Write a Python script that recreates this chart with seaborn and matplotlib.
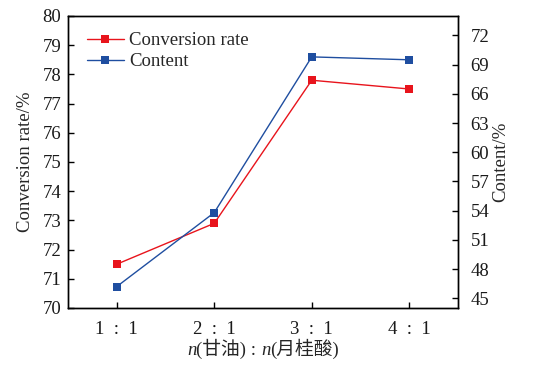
import matplotlib
matplotlib.use("Agg")
import matplotlib.pyplot as plt
import seaborn as sns
import pandas as pd
from matplotlib.offsetbox import TextArea, HPacker, AnchoredOffsetbox

categories = ["1\u2002:\u20021", "2\u2002:\u20021", "3\u2002:\u20021", "4\u2002:\u20021"]
conversion = [71.5, 72.9, 77.8, 77.5]
content = [46.2, 53.8, 69.8, 69.5]
left_ticks = [70, 71, 72, 73, 74, 75, 76, 77, 78, 79, 80]
right_ticks = [45, 48, 51, 54, 57, 60, 63, 66, 69, 72]

sns.set_style("ticks")
plt.rcParams['font.family'] = ['Liberation Serif', 'Noto Sans CJK SC']
plt.rcParams['font.size'] = 13

red = "#e8141c"
blue = "#1f4ea0"
FS = 13.5

df = pd.DataFrame({"x": range(len(categories)), "conv": conversion, "cont": content})

fig = plt.figure(figsize=(5.33, 3.67), dpi=100)
ax = fig.add_axes([68/533, 1-308/367, (458-68)/533, (308-16)/367])
ax2 = ax.twinx()

sns.lineplot(data=df, x="x", y="conv", ax=ax, color=red, marker="s", markersize=6,
             markeredgewidth=0, linewidth=1, label="Conversion rate", legend=False)
sns.lineplot(data=df, x="x", y="cont", ax=ax2, color=blue, marker="s", markersize=6,
             markeredgewidth=0, linewidth=1, label="Content", legend=False)

ax.set_xlim(-0.5, 3.5)
ax.set_ylim(70, 80)
ax2.set_ylim(44, 74)
ax.set_yticks(left_ticks)
ax2.set_yticks(right_ticks)
ax.set_xticks(range(len(categories)))
ax.set_xticklabels(categories)

for a in (ax, ax2):
    a.tick_params(direction="in", length=4, width=1, labelsize=FS, color="black", labelcolor="#1a1a1a")
    for s in a.spines.values():
        s.set_linewidth(1)
        s.set_color("black")
ax.tick_params(axis="y", pad=5)
ax.tick_params(axis="x", pad=9)
ax2.tick_params(axis="y", pad=9)

ax.set_xlabel("")
ax.set_ylabel("Conversion rate/%", fontsize=FS, labelpad=6)
ax2.set_ylabel("Content/%", fontsize=FS, labelpad=2)

h1, l1 = ax.get_legend_handles_labels()
h2, l2 = ax2.get_legend_handles_labels()
leg = ax.legend(h1 + h2, l1 + l2, loc="upper left", frameon=False, fontsize=FS,
                handlelength=1.95, handletextpad=0.3, borderaxespad=0.0, labelspacing=0.2,
                bbox_to_anchor=(0.03, 0.97))

serif = "Liberation Serif"
fam = ['Liberation Serif', 'Noto Sans CJK SC']
parts = [
    TextArea("n", textprops=dict(family=serif, style="italic", size=FS)),
    TextArea("(甘油) : ", textprops=dict(family=fam, size=FS)),
    TextArea("n", textprops=dict(family=serif, style="italic", size=FS)),
    TextArea("(月桂酸)", textprops=dict(family=fam, size=FS)),
]
box = HPacker(children=parts, align="baseline", pad=0, sep=0)
anch = AnchoredOffsetbox(loc="upper center", child=box, frameon=False,
                         bbox_to_anchor=(0.5, -0.105), bbox_transform=ax.transAxes,
                         borderpad=0, pad=0)
ax.add_artist(anch)

fig.savefig("out.png", dpi=100)
